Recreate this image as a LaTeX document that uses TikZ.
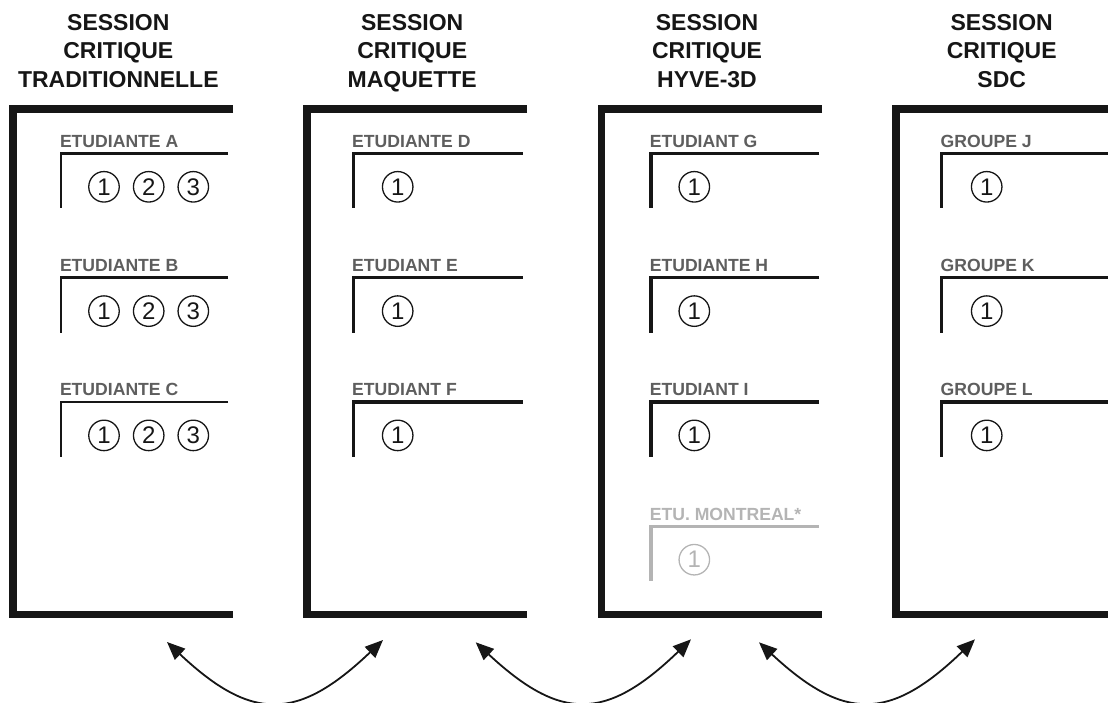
\documentclass[tikz,border=0pt]{standalone}
\usepackage{fontspec}
\setmainfont{Liberation Sans}
\usetikzlibrary{arrows.meta}
\definecolor{ink}{HTML}{161616}
\definecolor{labgray}{HTML}{5E5E5E}
\definecolor{faint}{HTML}{B4B4B4}
\newcommand{\sessrow}[8]{%
  % #1 name, #2 inner x, #3 end x, #4 row top, #5 label, #6 line colour, #7 label colour, #8 line width
  \draw[line width=#8, draw=#6, line join=miter] (#3,#4) -- (#2,#4) -- (#2,#4+55);
  \node[studlabel, text=#7] (#1) at (#2-1.2,#4-6) {#5};
}
\begin{document}
\begin{tikzpicture}[x=1pt,y=-1pt,
  sessframe/.style={line width=7.6pt, draw=ink, line join=miter},
  sesstitle/.style={anchor=base, inner sep=0pt, text=ink, font=\fontsize{23}{23}\selectfont\bfseries},
  studlabel/.style={anchor=base west, inner sep=0pt, font=\fontsize{17.6}{17.6}\selectfont\bfseries},
  numcirc/.style={circle, draw=ink, text=ink, line width=1.3pt, minimum size=30.5pt, inner sep=0pt, font=\fontsize{24}{24}\selectfont},
  faintcirc/.style={numcirc, draw=faint, text=faint},
  flowarrow/.style={draw=ink, line width=1.8pt, {Triangle[length=18pt,width=15pt]}-{Triangle[length=18pt,width=15pt]}}
]
\clip (0,0) rectangle (1108,702);
\useasboundingbox (0,0) rectangle (1108,702);

% ---- outer frames ----
\draw[sessframe] (233.2,109) -- (12.7,109) -- (12.7,614.3) -- (233.2,614.3);
\draw[sessframe] (527.2,109) -- (306.7,109) -- (306.7,614.3) -- (527.2,614.3);
\draw[sessframe] (822.0,109) -- (601.5,109) -- (601.5,614.3) -- (822.0,614.3);
\draw[sessframe] (1116.5,109) -- (896.0,109) -- (896.0,614.3) -- (1116.5,614.3);

% ---- titles ----
\foreach \n/\cx/\la/\lb/\lc in {1/118.3/SESSION/CRITIQUE/TRADITIONNELLE,
                                2/412.2/SESSION/CRITIQUE/MAQUETTE,
                                3/707.0/SESSION/CRITIQUE/HYVE-3D,
                                4/1001.7/SESSION/CRITIQUE/SDC}{
  \node[sesstitle] (title\n a) at (\cx,30) {\la};
  \node[sesstitle] (title\n b) at (\cx,58.7) {\lb};
  \node[sesstitle] (title\n c) at (\cx,87.4) {\lc};
}

% ---- column 1 ----
\sessrow{labA}{61}{228}{153.3}{ETUDIANTE A}{ink}{labgray}{2.4pt}
\sessrow{labB}{61}{228}{277.6}{ETUDIANTE B}{ink}{labgray}{2.4pt}
\sessrow{labC}{61}{228}{401.9}{ETUDIANTE C}{ink}{labgray}{2.4pt}
\node[numcirc] (a1) at (104,186.8) {1};
\node[numcirc] (a2) at (148.7,186.8) {2};
\node[numcirc] (a3) at (193.3,186.8) {3};
\node[numcirc] (b1) at (104,311.1) {1};
\node[numcirc] (b2) at (148.7,311.1) {2};
\node[numcirc] (b3) at (193.3,311.1) {3};
\node[numcirc] (c1) at (104,435.4) {1};
\node[numcirc] (c2) at (148.7,435.4) {2};
\node[numcirc] (c3) at (193.3,435.4) {3};

% ---- column 2 ----
\sessrow{labD}{353.2}{522.7}{153.3}{ETUDIANTE D}{ink}{labgray}{3.4pt}
\sessrow{labE}{353.2}{522.7}{277.6}{ETUDIANT E}{ink}{labgray}{3.4pt}
\sessrow{labF}{353.2}{522.7}{401.9}{ETUDIANT F}{ink}{labgray}{3.4pt}
\node[numcirc] (d1) at (397.7,186.8) {1};
\node[numcirc] (e1) at (397.7,311.1) {1};
\node[numcirc] (f1) at (397.7,435.4) {1};

% ---- column 3 ----
\sessrow{labG}{650.8}{819}{153.3}{ETUDIANT G}{ink}{labgray}{3.4pt}
\sessrow{labH}{650.8}{819}{277.6}{ETUDIANTE H}{ink}{labgray}{3.4pt}
\sessrow{labI}{650.8}{819}{401.9}{ETUDIANT I}{ink}{labgray}{3.4pt}
\sessrow{labM}{650.8}{819}{526.2}{ETU. MONTREAL*}{faint}{faint}{3.4pt}
\node[numcirc] (g1) at (694.3,186.8) {1};
\node[numcirc] (h1) at (694.3,311.1) {1};
\node[numcirc] (i1) at (694.3,435.4) {1};
\node[faintcirc] (m1) at (694.3,559.7) {1};

% ---- column 4 ----
\sessrow{labJ}{941.7}{1112}{153.3}{GROUPE J}{ink}{labgray}{3.4pt}
\sessrow{labK}{941.7}{1112}{277.6}{GROUPE K}{ink}{labgray}{3.4pt}
\sessrow{labL}{941.7}{1112}{401.9}{GROUPE L}{ink}{labgray}{3.4pt}
\node[numcirc] (j1) at (986.7,186.8) {1};
\node[numcirc] (k1) at (986.7,311.1) {1};
\node[numcirc] (l1) at (986.7,435.4) {1};

% ---- exchange arrows ----
\coordinate (arrowOneL) at (167,642);
\coordinate (arrowOneR) at (383,640);
\coordinate (arrowTwoL) at (475.7,642.3);
\coordinate (arrowTwoR) at (691,639.3);
\coordinate (arrowThreeL) at (759,642.3);
\coordinate (arrowThreeR) at (975,639.3);
\draw[flowarrow] (arrowOneL) .. controls +(85,80) and +(-85,81) .. (arrowOneR);
\draw[flowarrow] (arrowTwoL) .. controls +(85,79) and +(-85,82) .. (arrowTwoR);
\draw[flowarrow] (arrowThreeL) .. controls +(85,79) and +(-85,82) .. (arrowThreeR);
\end{tikzpicture}
\end{document}
